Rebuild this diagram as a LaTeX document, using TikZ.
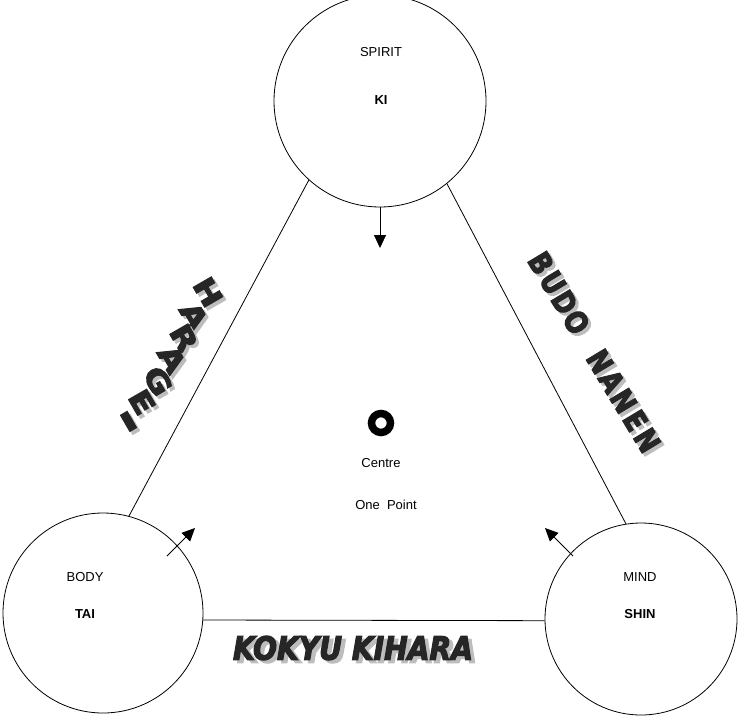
\documentclass[tikz,border=0pt]{standalone}
\usepackage{fontspec}
\setmainfont{Liberation Sans}
\newfontfamily\heavy[RawFeature={embolden=4}]{DejaVu Sans Bold}
\newfontfamily\heavyit[RawFeature={embolden=4}]{DejaVu Sans Bold Oblique}
\usetikzlibrary{arrows.meta,calc}
\definecolor{inkd}{HTML}{262626}
\definecolor{shad}{HTML}{BDBDBD}
\tikzset{
  circ/.style={circle,draw,line width=0.8pt,inner sep=0pt},
  conn/.style={line width=0.8pt},
  arr/.style={line width=0.8pt,-{Triangle[length=13pt,width=12pt]}},
  lab/.style={font=\fontsize{13}{15}\selectfont},
  blab/.style={font=\fontsize{13}{15}\selectfont\bfseries},
  wa/.style={font=\heavy\fontsize{30}{30}\selectfont,inner sep=0pt,text=inkd},
  wash/.style={font=\heavy\fontsize{30}{30}\selectfont,inner sep=0pt,text=shad},
  kk/.style={font=\heavyit\fontsize{32}{32}\selectfont,inner sep=0pt,xscale=0.88},
}
\newcommand{\wlet}[6]{%
  \node[wash,rotate=#3,xscale=#5,yscale=#6] at ($(#1,#2)+(3,3)$) {#4};
  \node[wa,rotate=#3,xscale=#5,yscale=#6] at (#1,#2) {#4};}
\begin{document}
\begin{tikzpicture}[x=1pt,y=-1pt]
\useasboundingbox (0,0) rectangle (738,718);
% circles
\node[circ,minimum size=212pt] (top) at (380,101) {};
\node[circ,minimum size=200pt] (body) at (103,613) {};
\node[circ,minimum size=192pt] (mind) at (641,619) {};
% texts
\node[lab] (spirit) at (381,52) {SPIRIT};
\node[blab] (ki) at (381,100) {KI};
\node[lab] (bodyt) at (85,577) {BODY};
\node[blab] (tai) at (85,614) {TAI};
\node[lab] (mindt) at (640,577) {MIND};
\node[blab] (shin) at (640,614) {SHIN};
% triangle
\draw[conn] (top.228) -- (body.75);
\draw[conn] (top.309) -- (mind.99);
\draw[conn] (body.-4.6) -- (mind.181.2);
% arrows
\coordinate (ta) at (380,248);
\coordinate (la) at (195,528);
\coordinate (ra) at (545,528);
\coordinate (lt) at (167,556);
\coordinate (rt) at (573,556);
\draw[arr] (top.south) -- (ta);
\draw[arr] (lt) -- (la);
\draw[arr] (rt) -- (ra);
% centre
\draw[line width=7.5pt] (381,423) circle (9.5pt);
\node[lab] (centre) at (381,463) {Centre};
\node[lab] (onep) at (386,505) {One\ \ Point};
% word art
\foreach \c/\x/\y in {H/208/292,A/194/316,R/184/338,A/172/359,G/158/381,E/142/402}{\wlet{\x}{\y}{-60}{\c}{1.15}{0.95}}
\wlet{124}{424}{-60}{-}{1.9}{1.6}
\foreach \c/\i in {B/0,U/1,D/2,O/3,N/5,A/6,N/7,E/8,N/9}{%
  \pgfmathsetmacro\xx{541+\i*11.8}\pgfmathsetmacro\yy{263+\i*19.7}%
  \wlet{\xx}{\yy}{-59}{\c}{0.85}{1}}
\node[kk,text=shad] at (357,651) {KOKYU KIHARA};
\node[kk,text=inkd] (kkn) at (353,648) {KOKYU KIHARA};
\end{tikzpicture}
\end{document}
